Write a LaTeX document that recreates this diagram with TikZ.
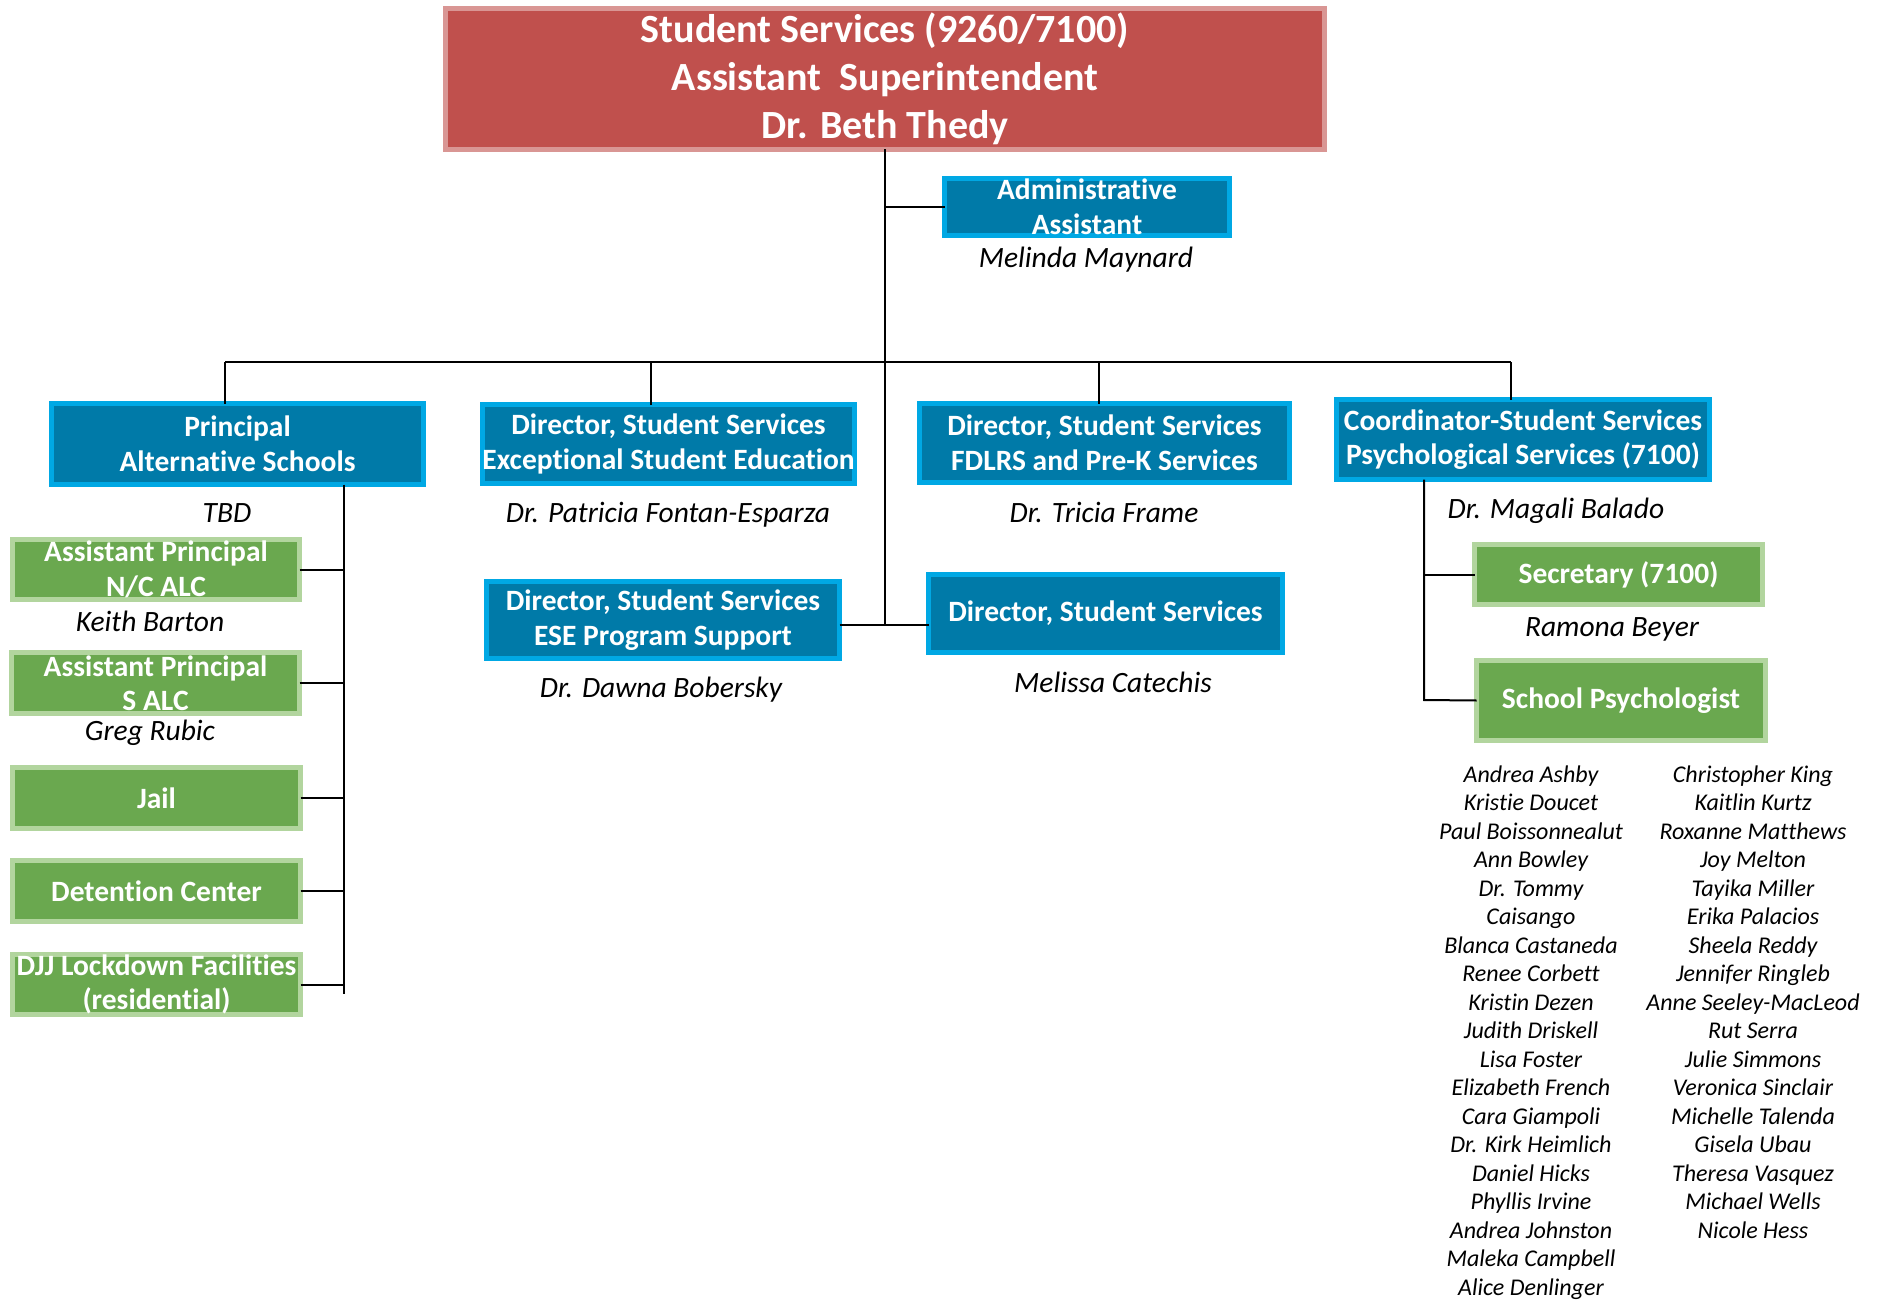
\documentclass[tikz,border=0pt]{standalone}
\usepackage{fontspec}
\setmainfont[Ligatures=NoCommon]{Carlito}
\definecolor{redfill}{RGB}{192,80,77}
\definecolor{redline}{RGB}{217,150,148}
\definecolor{bluefill}{RGB}{0,122,168}
\definecolor{blueline}{RGB}{0,168,228}
\definecolor{greenfill}{RGB}{106,168,79}
\definecolor{greenline}{RGB}{178,213,158}
\tikzset{
  boxbase/.style={rectangle, line width=5pt, inner sep=0pt, outer sep=0pt, align=center, text=white,
    font=\fontsize{29.5}{34.5}\selectfont\bfseries},
  topbox/.style={boxbase, fill=redfill, draw=redline, font=\fontsize{40}{48}\selectfont\bfseries},
  bluebox/.style={boxbase, fill=bluefill, draw=blueline},
  greenbox/.style={boxbase, fill=greenfill, draw=greenline},
  person/.style={anchor=base, inner sep=0pt, font=\fontsize{29.5}{34}\selectfont\itshape},
  listname/.style={anchor=base, inner sep=0pt, font=\fontsize{24}{28}\selectfont\itshape},
  link/.style={line width=2pt, black},
}
\newcommand{\bx}[7]{% style, name, x1, y1, x2, y2, text
  \node[#1, minimum width={#5-#3-5}, minimum height={#6-#4-5}] (#2) at ({(#3+#5)/2},{(#4+#6)/2}) {#7};}
\begin{document}
\begin{tikzpicture}[x=1pt,y=-1pt]
\useasboundingbox (0,0) rectangle (1879,1303);
% boxes
\bx{topbox}{top}{443}{6}{1327}{152}{Student Services (9260/7100)\\Assistant\ \ Superintendent\\Dr. Beth Thedy}
\bx{bluebox}{admin}{942}{176}{1232}{238}{Administrative\\Assistant}
\bx{bluebox}{principal}{49}{401}{426}{487}{Principal\\Alternative Schools}
\bx{bluebox}{ese}{480}{402}{857}{486}{Director, Student Services\\Exceptional Student Education}
\bx{bluebox}{fdlrs}{917}{401}{1292}{485}{Director, Student Services\\FDLRS and Pre-K Services}
\bx{bluebox}{coord}{1334}{397}{1712}{482}{Coordinator-Student Services\\Psychological Services (7100)}
\bx{bluebox}{esps}{484}{579}{842}{661}{Director, Student Services\\ESE Program Support}
\bx{bluebox}{dir}{926}{572}{1285}{655}{Director, Student Services}
\bx{greenbox}{sec}{1472}{542}{1765}{607}{Secretary (7100)}
\bx{greenbox}{psych}{1474}{658}{1768}{743}{School Psychologist}
\bx{greenbox}{apnc}{10}{537}{302}{602}{Assistant Principal\\N/C ALC}
\bx{greenbox}{aps}{9}{650}{302}{716}{Assistant Principal\\S ALC}
\bx{greenbox}{jail}{10}{765}{303}{831}{Jail}
\bx{greenbox}{det}{10}{858}{303}{924}{Detention Center}
\bx{greenbox}{djj}{10}{952}{303}{1017}{DJJ Lockdown Facilities\\(residential)}
% persons
\node[person] (pmm) at (1086,267) {Melinda Maynard};
\node[person] (ptbd) at (227,522) {TBD};
\node[person] (pkb) at (150,631) {Keith Barton};
\node[person] (pgr) at (150,740) {Greg Rubic};
\node[person] (ppf) at (668,522) {Dr. Patricia Fontan-Esparza};
\node[person] (ptf) at (1104,522) {Dr. Tricia Frame};
\node[person] (pdb) at (661,697) {Dr. Dawna Bobersky};
\node[person] (pmc) at (1113,692) {Melissa Catechis};
\node[person] (pmb) at (1556,518) {Dr. Magali Balado};
\node[person] (prb) at (1612,636) {Ramona Beyer};
% school psychologists
\foreach \t [count=\i] in {Andrea Ashby, Kristie Doucet, Paul Boissonnealut, Ann Bowley, Dr. Tommy, Caisango, Blanca Castaneda, Renee Corbett, Kristin Dezen, Judith Driskell, Lisa Foster, Elizabeth French, Cara Giampoli, Dr. Kirk Heimlich, Daniel Hicks, Phyllis Irvine, Andrea Johnston, Maleka Campbell, Alice Denlinger}
  \node[listname] (pa\i) at (1531,{782+(\i-1)*28.5}) {\t};
\foreach \t [count=\i] in {Christopher King, Kaitlin Kurtz, Roxanne Matthews, Joy Melton, Tayika Miller, Erika Palacios, Sheela Reddy, Jennifer Ringleb, Anne Seeley-MacLeod, Rut Serra, Julie Simmons, Veronica Sinclair, Michelle Talenda, Gisela Ubau, Theresa Vasquez, Michael Wells, Nicole Hess}
  \node[listname] (pb\i) at (1753,{782+(\i-1)*28.5}) {\t};
% connector coordinates
\coordinate (hub) at (885,625);
\coordinate (bus1) at (225,362);
\coordinate (bus2) at (651,362);
\coordinate (bus3) at (1099,362);
\coordinate (bus4) at (1511,362);
\coordinate (lbot) at (344,994);
\coordinate (rbot) at (1424,700);
% connectors
\draw[link] (top.south) -- (hub);
\draw[link] (admin.west) -- (admin.west -| top.south);
\draw[link] (bus1) -- (bus4);
\draw[link] (bus1) -- (bus1 |- principal.north);
\draw[link] (bus2) -- (bus2 |- ese.north);
\draw[link] (bus3) -- (bus3 |- fdlrs.north);
\draw[link] (bus4) -- (bus4 |- coord.north);
\draw[link] (esps.east |- hub) -- (dir.west |- hub);
\draw[link] (lbot |- principal.south) -- (lbot);
\foreach \b in {apnc,aps,jail,det,djj}
  \draw[link] (\b.east) -- (\b.east -| lbot);
\draw[link] (rbot |- coord.south) -- (rbot) -- (psych.west);
\draw[link] (sec.west) -- (sec.west -| rbot);
\end{tikzpicture}
\end{document}
